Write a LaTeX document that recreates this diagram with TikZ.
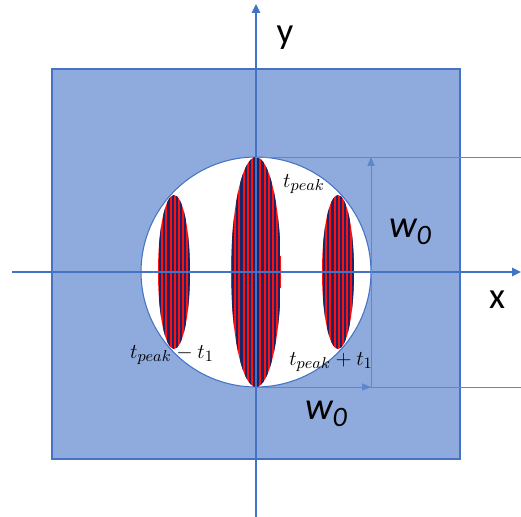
\documentclass[tikz,border=0pt]{standalone}
\usepackage{fontspec}
\newfontfamily\labelfont{Carlito}
\usetikzlibrary{arrows.meta}
\definecolor{panel}{HTML}{8FAADC}
\definecolor{axisblue}{HTML}{4472C4}
\definecolor{stripered}{HTML}{FF1010}
\definecolor{stripenavy}{HTML}{1C2468}
\tikzset{
  axis/.style={axisblue, line width=1.2pt, -{Triangle[length=5pt,width=4.5pt]}},
  dimline/.style={axisblue!85, line width=0.5pt},
  axislabel/.style={font=\labelfont\fontsize{21}{24}\selectfont},
  wlabel/.style={font=\labelfont\itshape\fontsize{22}{24}\selectfont},
  tlabel/.style={font=\fontsize{13}{15}\selectfont},
}
\begin{document}
\begin{tikzpicture}[x=0.02cm,y=-0.02cm]
      \useasboundingbox (0,0) rectangle (521,517);
      % panel and aperture
      \filldraw[fill=panel, draw=axisblue, line width=0.6pt] (52,69) rectangle (460,459);
      \coordinate (O) at (256,272);
      \filldraw[fill=white, draw=axisblue, line width=0.6pt] (O) circle [radius=2.3cm];
      % striped lobes
      \foreach \cx/\rx/\ry in {174/16/77, 256/25/115, 338/16/77} {
        \begin{scope}
          \clip (\cx,272) ellipse [x radius=\rx*0.02cm, y radius=\ry*0.02cm];
          \fill[stripered] ({\cx-\rx},150) rectangle ({\cx+\rx},395);
          \foreach \s in {0,4.2,...,50}
            \fill[stripenavy] ({\cx-\rx+\s+1},150) rectangle ++(2.1,245);
        \end{scope}
      }
      % axes
      \coordinate (xstart) at (12,272);
      \coordinate (xend) at (521,272);
      \coordinate (ystart) at (256,517);
      \coordinate (yend) at (256,4);
      \draw[axis] (xstart) -- (xend);
      \draw[axis] (ystart) -- (yend);
      % width markers
      \coordinate (top) at (256,157);
      \coordinate (bot) at (256,387);
      \coordinate (topR) at (521,157);
      \coordinate (botR) at (521,387);
      \coordinate (dimtop) at (371,157);
      \coordinate (dimbot) at (371,387);
      \draw[dimline] (top) -- (topR);
      \draw[dimline] (bot) -- (botR);
      \draw[dimline, -{Triangle[length=5pt,width=4pt]}] (bot) -- (dimbot);
      \draw[dimline, -{Triangle[length=5pt,width=4pt]}] (dimbot) -- (dimtop);
      % labels
      \node[axislabel] (ylab) at (285,38) {y};
      \node[axislabel] (xlab) at (497,300) {x};
      \node[wlabel] (wtop) at (410,232) {w\raisebox{-0.4ex}{\fontsize{16}{16}\selectfont 0}};
      \node[wlabel] (wbot) at (326,414) {w\raisebox{-0.4ex}{\fontsize{16}{16}\selectfont 0}};
      \node[tlabel] (tpk) at (304,184) {$t_{peak}$};
      \node[tlabel] (tminus) at (172,355) {$t_{peak}-t_1$};
      \node[tlabel] (tplus) at (331,362) {$t_{peak}+t_1$};
    \end{tikzpicture}
\end{document}
